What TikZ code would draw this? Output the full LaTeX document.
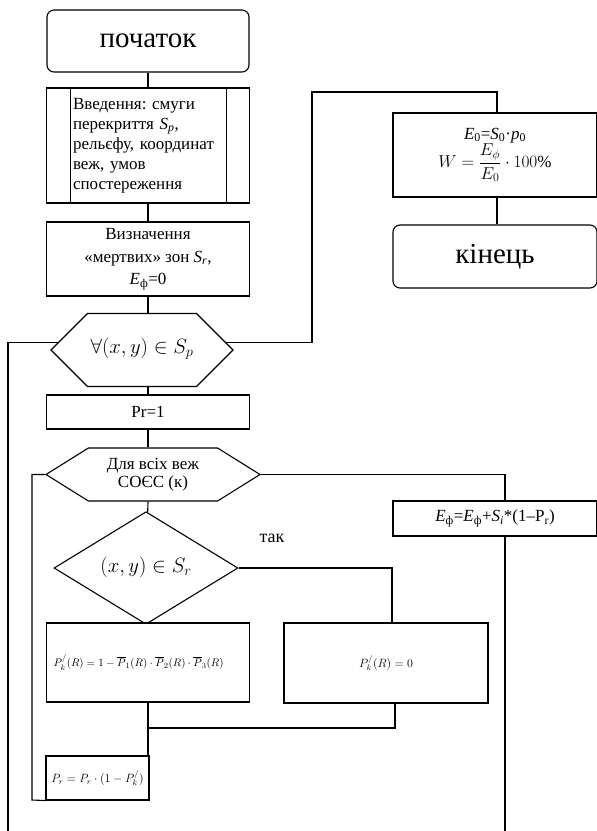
\documentclass[tikz,border=0pt]{standalone}
\usepackage{amsmath}
\usepackage{fontspec}
\setmainfont{LiberationSerif}[Extension=.ttf,UprightFont=*-Regular,ItalicFont=*-Italic,BoldFont=*-Bold,BoldItalicFont=*-BoldItalic]
\usetikzlibrary{positioning,shapes.geometric,shapes.symbols}
\frenchspacing
\newcommand{\isub}[2]{\textit{#1}\textsubscript{#2}}
\tikzset{
  box/.style={draw=black,line width=1.1pt,fill=white,inner sep=2pt,align=center,font=\fontsize{17}{20}\selectfont},
  term/.style={box,rectangle,rounded corners=7pt,minimum width=202pt,minimum height=62pt,font=\fontsize{29}{32}\selectfont},
  proc/.style={box,rectangle,minimum width=203pt},
  io/.style={proc,path picture={
    \draw[line width=1.1pt] ([xshift=24pt]path picture bounding box.north west) -- ([xshift=24pt]path picture bounding box.south west);
    \draw[line width=1.1pt] ([xshift=-23pt]path picture bounding box.north east) -- ([xshift=-23pt]path picture bounding box.south east);}},
  hexa/.style={box,signal,signal to=east and west,signal pointer angle=#1},
  cond/.style={box,diamond,inner sep=0pt,minimum width=184pt,minimum height=102pt,font=\fontsize{21}{24}\selectfont},
  flow/.style={draw=black,line width=1.1pt},
  small/.style={font=\fontsize{12}{14}\selectfont},
}

\begin{document}
\begin{tikzpicture}[x=1pt,y=-1pt]
\useasboundingbox (0,0) rectangle (597,831);
\node[term](start) at (148,41){початок};
\node[io,minimum height=115pt,text width=150pt,align=left](in) at (148,145.5){Введення: смуги\\перекриття \isub{S}{\textit{p}},\\рельєфу, координат\\веж, умов\\спостереження};
\node[proc,minimum height=74pt,font=\fontsize{17}{22.5}\selectfont](zone) at (148,259){Визначення\\«мертвих» зон \isub{S}{\textit{r}},\\\isub{E}{ф}=0};
\node[hexa=90,minimum width=182pt,minimum height=73pt,font=\fontsize{21}{24}\selectfont](loop1) at (142,350){\raisebox{8pt}{$\forall(x,y)\in S_p$}};
\node[proc,minimum height=34pt](pr) at (148,412){Pr=1};
\node[hexa=64,minimum width=214pt,minimum height=53pt,font=\fontsize{17}{18}\selectfont](loop2) at (153,474.5){\raisebox{-4pt}{\begin{tabular}{@{}c@{}}Для всіх веж\\СОЄС (к)\end{tabular}}};
\node[cond](test) at (146,568){\raisebox{6pt}{$(x,y)\in S_r$}};
\node[font=\fontsize{18}{20}\selectfont](yes) at (272,538){так};
\node[proc,font=\fontsize{11}{13}\selectfont,minimum height=79pt,text width=189pt,align=left](pk1) at (148,662.5){$P_k^{/}(R)=1-\overline{P}_1(R)\cdot\overline{P}_2(R)\cdot\overline{P}_3(R)$};
\node[proc,small,minimum width=204pt,minimum height=80pt](pk0) at (386,663){$P_k^{/}(R)=0$};
\node[proc,small,minimum width=103pt,minimum height=44pt](pr2) at (97.5,778){$P_r=P_r\cdot(1-P_k^{/})$};
\node[proc,minimum width=204pt,minimum height=84pt](e0) at (495,155){\isub{E}{0}=\isub{S}{0}·\isub{p}{0}\\$W=\dfrac{E_\phi}{E_0}\cdot100\%$};
\node[term,minimum width=204pt,minimum height=63pt](end) at (495,256.5){кінець};
\node[proc,minimum width=204pt,minimum height=35pt](ephi) at (495,518.5){\isub{E}{ф}=\isub{E}{ф}+\isub{S}{\textit{i}}*(1–P\textsubscript{r})};
\coordinate (lt) at (8,831);
\coordinate (tr) at (312,92);
\coordinate (lb) at (32,800);
\coordinate (jn) at (148,728);
\coordinate (rb) at (505,831);
\draw[flow] (start) -- (in);
\draw[flow] (in) -- (zone);
\draw[flow] (zone.south) -- (zone.south |- loop1.north);
\draw[flow] (loop1.south -| pr.north) -- (pr.north);
\draw[flow] (pr.south) -- (pr.south |- loop2.north);
\draw[flow] (loop2.south -| pr.south) -- (test);
\draw[flow] (test) -- (pk1.north);
\draw[flow] (test.east) -| ([xshift=6pt]pk0.north);
\draw[flow] (pk1) -- (pk1.south |- pr2.north);
\draw[flow] ([xshift=9pt]pk0.south) |- (jn);
\draw[flow] (pr2.south west) -- (lb) |- (loop2.west);
\draw[flow] (loop2.east) -| (rb |- ephi.north);
\draw[flow] (rb |- ephi.south) -- (rb);
\draw[flow] (loop1.175) -| (lt);
\draw[flow] (loop1.5) -| (tr) -| ([xshift=2pt]e0.north);
\draw[flow] ([xshift=2pt]e0.south) -- ([xshift=2pt]end.north);
\end{tikzpicture}
\end{document}
